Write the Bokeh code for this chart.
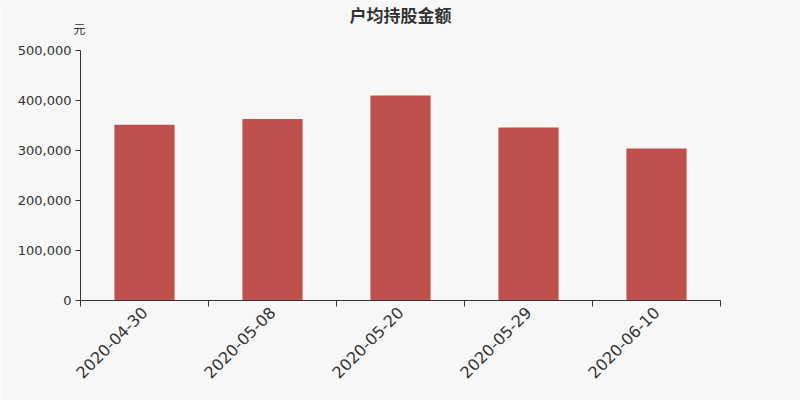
from bokeh.plotting import figure
from bokeh.models import FixedTicker, NumeralTickFormatter, Label, Range1d
from bokeh.embed import file_html
from bokeh.resources import INLINE
import math

categories = ["2020-04-30", "2020-05-08", "2020-05-20", "2020-05-29", "2020-06-10"]
values = [351500, 363000, 410000, 346000, 304000]
y_ticks = [0, 100000, 200000, 300000, 400000, 500000]
title_text = "户均持股金额"
unit_text = "元"

BG = "#f7f7f7"
BAR = "#c0504d"
AX = "#333333"

N = len(categories)
Y_MAX = y_ticks[-1]
# the frame covers the whole canvas; both axes sit at fixed locations and stop at their bounds
p = figure(width=800, height=400, output_backend="svg", toolbar_location=None,
           x_range=Range1d(-N * 0.125, N * 1.125), y_range=Range1d(-Y_MAX * 0.4, Y_MAX * 1.2),
           min_border_left=0, min_border_right=0, min_border_top=0, min_border_bottom=0)
p.title.visible = False
p.background_fill_color = BG
p.border_fill_color = BG
p.outline_line_color = None
p.grid.visible = False

xs = [i + 0.5 for i in range(N)]
p.vbar(x=xs, top=values, width=0.47, color=BAR, line_color=None)

xa = p.xaxis[0]
xa.fixed_location = 0
xa.ticker = FixedTicker(ticks=xs, minor_ticks=list(range(N + 1)))
xa.bounds = (0, N)
xa.major_label_overrides = {x: c for x, c in zip(xs, categories)}
xa.major_tick_out = 0
xa.major_tick_in = 0
xa.minor_tick_out = 6
xa.minor_tick_in = 0
xa.minor_tick_line_color = AX
xa.axis_line_color = AX
xa.major_label_orientation = math.pi / 4
xa.major_label_text_font = "DejaVu Sans"
xa.major_label_text_font_size = "16px"
xa.major_label_text_color = AX
xa.major_label_standoff = 3

ya = p.yaxis[0]
ya.fixed_location = 0
ya.ticker = FixedTicker(ticks=y_ticks)
ya.bounds = (0, Y_MAX)
ya.formatter = NumeralTickFormatter(format="0,0")
ya.major_tick_out = 5
ya.major_tick_in = 0
ya.minor_tick_out = 0
ya.minor_tick_in = 0
ya.axis_line_color = AX
ya.major_tick_line_color = AX
ya.major_label_text_font = "DejaVu Sans"
ya.major_label_text_font_size = "13px"
ya.major_label_text_color = AX
ya.major_label_standoff = 4

title = Label(x=400, y=386, x_units="screen", y_units="screen", text=title_text,
              text_font="Noto Sans CJK SC", text_font_size="17px", text_font_style="bold",
              text_color=AX, text_align="center", text_baseline="middle")
unit = Label(x=79, y=372, x_units="screen", y_units="screen", text=unit_text,
             text_font="Noto Sans CJK SC", text_font_size="12px",
             text_color=AX, text_align="center", text_baseline="middle")
p.add_layout(title)
p.add_layout(unit)

open("out.html", "w").write(file_html(p, INLINE))
